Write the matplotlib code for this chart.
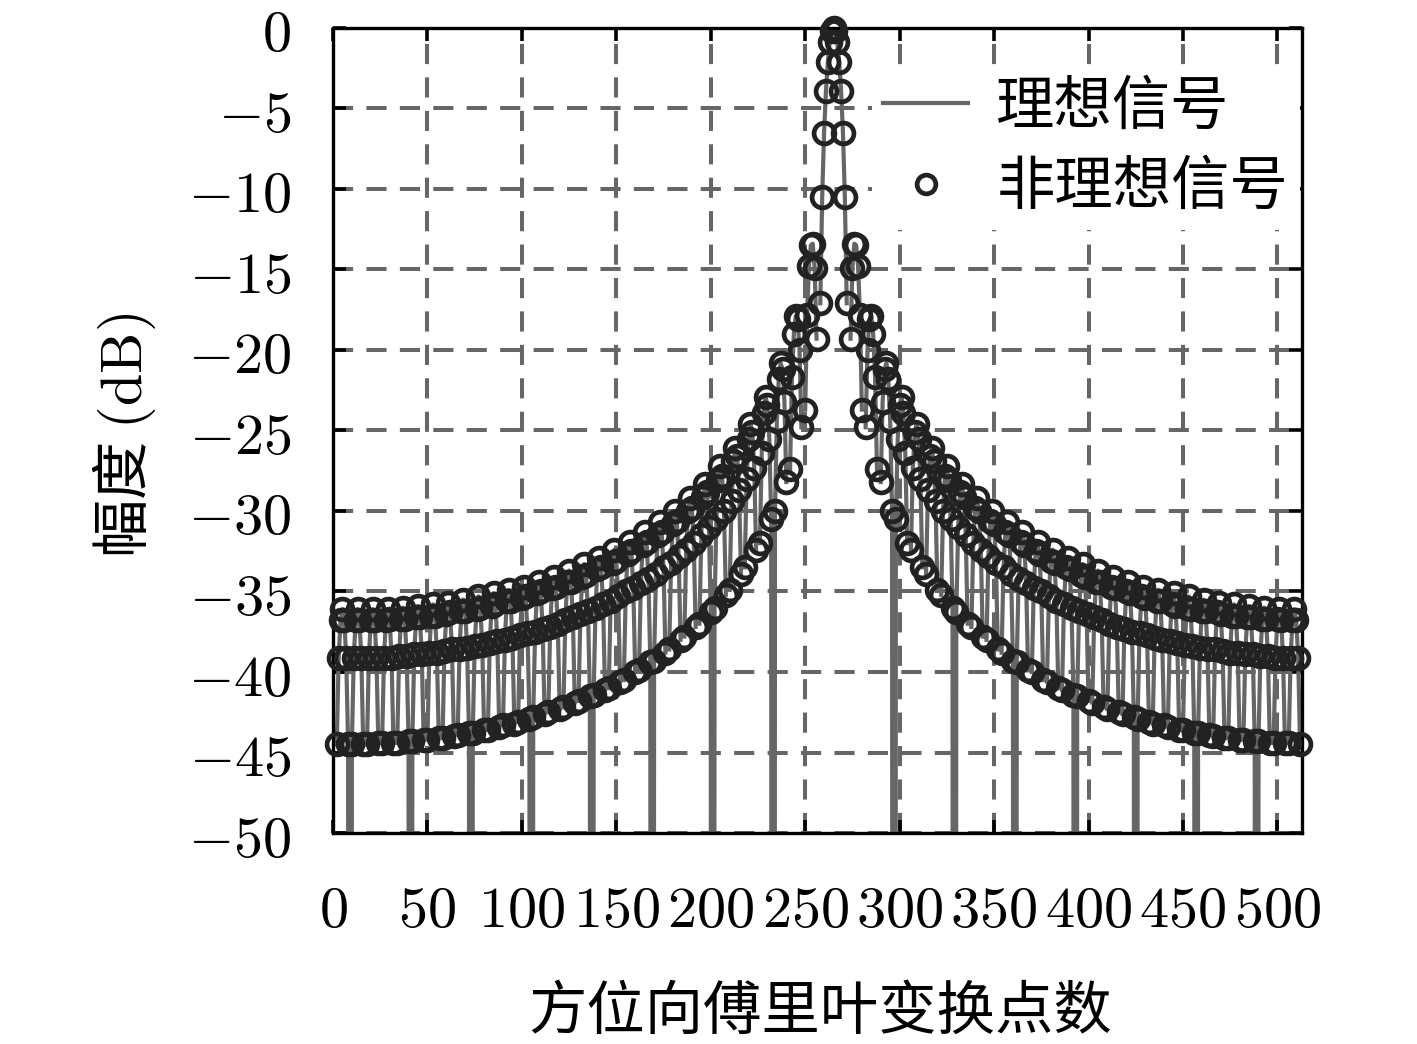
import matplotlib
matplotlib.use('Agg')
import matplotlib.pyplot as plt
from matplotlib.ticker import FixedLocator, FuncFormatter

plt.rcParams['font.family'] = ['Noto Sans CJK SC', 'DejaVu Sans']
plt.rcParams['mathtext.fontset'] = 'cm'

nan = float('nan')   # exact zero of the FFT -> -Inf, not drawn
D = -300.0           # null that only reaches the numerical floor

# azimuth FFT bins 1..512
bins = list(range(1, 513))

# ideal signal amplitude (dB)
ideal_db = [
    nan,
    -44.5, -39.1, -36.8, -36.1, -36.8, -39.1, -44.5, D,
    -44.5, -39.1, -36.8, -36.1, -36.8, -39.1, -44.5, nan,
    -44.5, -39.1, -36.8, -36.1, -36.8, -39.1, -44.4, nan,
    -44.4, -39.1, -36.8, -36.1, -36.7, -39.1, -44.4, nan,
    -44.4, -39.0, -36.7, -36.0, -36.7, -39.0, -44.3, D,
    -44.3, -38.9, -36.6, -35.9, -36.6, -38.9, -44.2, nan,
    -44.2, -38.8, -36.5, -35.8, -36.5, -38.8, -44.1, nan,
    -44.1, -38.7, -36.4, -35.7, -36.3, -38.6, -44.0, nan,
    -43.9, -38.6, -36.2, -35.5, -36.2, -38.5, -43.8, D,
    -43.8, -38.4, -36.1, -35.3, -36.0, -38.3, -43.6, nan,
    -43.6, -38.2, -35.9, -35.1, -35.8, -38.1, -43.4, nan,
    -43.3, -38.0, -35.6, -34.9, -35.6, -37.9, -43.2, nan,
    -43.1, -37.7, -35.4, -34.7, -35.3, -37.6, -42.9, D,
    -42.8, -37.5, -35.1, -34.4, -35.0, -37.3, -42.6, nan,
    -42.5, -37.2, -34.8, -34.1, -34.7, -37.0, -42.3, nan,
    -42.2, -36.8, -34.4, -33.7, -34.4, -36.6, -41.9, nan,
    -41.8, -36.4, -34.1, -33.3, -34.0, -36.2, -41.5, D,
    -41.4, -36.0, -33.6, -32.9, -33.5, -35.8, -41.1, nan,
    -41.0, -35.6, -33.2, -32.4, -33.1, -35.3, -40.6, nan,
    -40.5, -35.0, -32.7, -31.9, -32.5, -34.8, -40.0, nan,
    -39.9, -34.5, -32.1, -31.3, -31.9, -34.2, -39.4, D,
    -39.3, -33.9, -31.5, -30.7, -31.3, -33.5, -38.8, nan,
    -38.6, -33.2, -30.8, -30.0, -30.6, -32.8, -38.0, nan,
    -37.8, -32.4, -30.0, -29.2, -29.8, -32.0, -37.2, nan,
    -37.0, -31.5, -29.1, -28.3, -28.8, -31.0, -36.3, D,
    -36.0, -30.5, -28.1, -27.2, -27.8, -30.0, -35.2, nan,
    -34.9, -29.4, -26.9, -26.1, -26.6, -28.7, -33.9, nan,
    -33.5, -28.0, -25.5, -24.6, -25.1, -27.3, -32.4, nan,
    -32.0, -26.4, -23.9, -22.9, -23.4, -25.5, -30.5, D,
    -30.0, -24.4, -21.8, -20.8, -21.2, -23.2, -28.2, nan,
    -27.4, -21.7, -19.0, -17.9, -18.1, -20.0, -24.8, nan,
    -23.7, -17.8, -14.8, -13.5, -13.4, -14.9, -19.3, nan,
    -17.1, -10.5, -6.5, -3.9, -2.1, -0.9, -0.2, 0.0,
    -0.2, -0.9, -2.1, -3.9, -6.5, -10.5, -17.1, nan,
    -19.3, -14.9, -13.4, -13.5, -14.8, -17.8, -23.7, nan,
    -24.8, -20.0, -18.1, -17.9, -19.0, -21.7, -27.4, nan,
    -28.2, -23.2, -21.2, -20.8, -21.8, -24.4, -30.0, D,
    -30.5, -25.5, -23.4, -22.9, -23.9, -26.4, -32.0, nan,
    -32.4, -27.3, -25.1, -24.6, -25.5, -28.0, -33.5, nan,
    -33.9, -28.7, -26.6, -26.1, -26.9, -29.4, -34.9, nan,
    -35.2, -30.0, -27.8, -27.2, -28.1, -30.5, -36.0, D,
    -36.3, -31.0, -28.8, -28.3, -29.1, -31.5, -37.0, nan,
    -37.2, -32.0, -29.8, -29.2, -30.0, -32.4, -37.8, nan,
    -38.0, -32.8, -30.6, -30.0, -30.8, -33.2, -38.6, nan,
    -38.8, -33.5, -31.3, -30.7, -31.5, -33.9, -39.3, D,
    -39.4, -34.2, -31.9, -31.3, -32.1, -34.5, -39.9, nan,
    -40.0, -34.8, -32.5, -31.9, -32.7, -35.0, -40.5, nan,
    -40.6, -35.3, -33.1, -32.4, -33.2, -35.6, -41.0, nan,
    -41.1, -35.8, -33.5, -32.9, -33.6, -36.0, -41.4, D,
    -41.5, -36.2, -34.0, -33.3, -34.1, -36.4, -41.8, nan,
    -41.9, -36.6, -34.4, -33.7, -34.4, -36.8, -42.2, nan,
    -42.3, -37.0, -34.7, -34.1, -34.8, -37.2, -42.5, nan,
    -42.6, -37.3, -35.0, -34.4, -35.1, -37.5, -42.8, D,
    -42.9, -37.6, -35.3, -34.7, -35.4, -37.7, -43.1, nan,
    -43.2, -37.9, -35.6, -34.9, -35.6, -38.0, -43.3, nan,
    -43.4, -38.1, -35.8, -35.1, -35.9, -38.2, -43.6, nan,
    -43.6, -38.3, -36.0, -35.3, -36.1, -38.4, -43.8, D,
    -43.8, -38.5, -36.2, -35.5, -36.2, -38.6, -43.9, nan,
    -44.0, -38.6, -36.3, -35.7, -36.4, -38.7, -44.1, nan,
    -44.1, -38.8, -36.5, -35.8, -36.5, -38.8, -44.2, nan,
    -44.2, -38.9, -36.6, -35.9, -36.6, -38.9, -44.3, D,
    -44.3, -39.0, -36.7, -36.0, -36.7, -39.0, -44.4, nan,
    -44.4, -39.1, -36.7, -36.1, -36.8, -39.1, -44.4, nan,
    -44.4, -39.1, -36.8, -36.1, -36.8, -39.1, -44.5,
]

# non-ideal signal: the circles sit on the ideal curve everywhere
nonideal_db = list(ideal_db)

x_ticks = [0, 50, 100, 150, 200, 250, 300, 350, 400, 450, 500]
y_ticks = [0, -5, -10, -15, -20, -25, -30, -35, -40, -45, -50]

fig = plt.figure(figsize=(14.17, 10.44), dpi=100)
ax = fig.add_axes([0.2350, 0.2021, 0.6838, 0.7711])

ax.plot(bins, ideal_db, color='#666666', lw=3.0, label='理想信号', zorder=2)
ax.plot(bins, nonideal_db, ls='none', marker='o', ms=15, mfc='none',
        mec='#222222', mew=3.4, label='非理想信号', clip_on=False, zorder=3)

ax.set_xlim(0, 513)
ax.set_ylim(-50, 0)
ax.xaxis.set_major_locator(FixedLocator(x_ticks))
ax.yaxis.set_major_locator(FixedLocator(y_ticks))
fmt = FuncFormatter(lambda v, p: '$%d$' % v if v >= 0 else '$-%d$' % -v)
ax.xaxis.set_major_formatter(fmt)
ax.yaxis.set_major_formatter(fmt)

ax.set_axisbelow(True)
ax.grid(True, color='#666666', linestyle=(0, (5, 3.3)), linewidth=2.9)
ax.tick_params(direction='in', length=9.4, width=2.6, labelsize=42,
               top=True, right=True, color='black')
ax.tick_params(axis='y', pad=30)
ax.tick_params(axis='x', pad=34)
for s in ax.spines.values():
    s.set_linewidth(2.4)

ax.set_xlabel('方位向傅里叶变换点数', fontsize=42, va='center')
ax.xaxis.set_label_coords(0.5026, -0.2224)
ax.set_ylabel('幅度 $(\\mathrm{dB})$', fontsize=42, va='center')
ax.yaxis.set_label_coords(-0.2147, 0.4944)

leg = ax.legend(loc='upper right', bbox_to_anchor=(0.998, 0.954),
                borderaxespad=0, fontsize=42, frameon=True, fancybox=False,
                edgecolor='none', facecolor='white', framealpha=1,
                handlelength=1.46, handletextpad=0.48, borderpad=0.2,
                labelspacing=0.33, markerscale=0.9)

fig.savefig('out.png', dpi=100)
